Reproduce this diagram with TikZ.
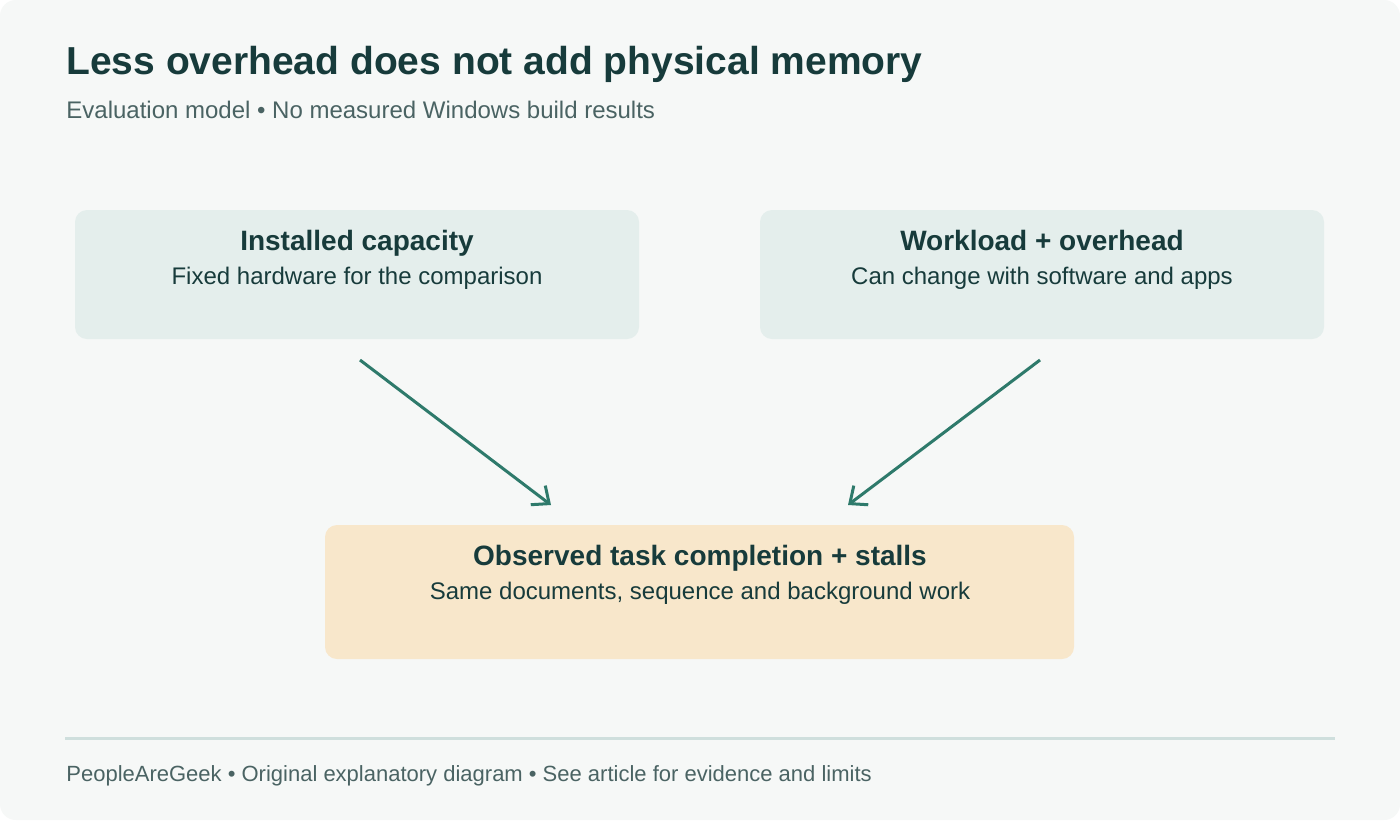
\documentclass[tikz,border=0pt]{standalone}
\usepackage{fontspec}
\setmainfont{Liberation Sans}
\usetikzlibrary{arrows.meta}
\definecolor{bg}{HTML}{F6F8F7}
\definecolor{ink}{HTML}{173B3B}
\definecolor{sub}{HTML}{4A6363}
\definecolor{boxg}{HTML}{E4EEEC}
\definecolor{boxo}{HTML}{F8E7CB}
\definecolor{arr}{HTML}{2E7A6B}
\definecolor{rule}{HTML}{CFDFDD}
\begin{document}
\begin{tikzpicture}[x=0.5pt,y=-0.5pt,
  box/.style={rounded corners=6pt,draw=none},
  ttl/.style={anchor=base,inner sep=0pt,font=\bfseries\fontsize{14}{16}\selectfont,text=ink},
  body/.style={anchor=base,inner sep=0pt,font=\fontsize{12}{14}\selectfont,text=ink},
  conn/.style={draw=arr,line width=1.5pt,-{Straight Barb[length=7pt,width=12pt]}}]
\useasboundingbox (0,0) rectangle (1400,820);
\fill[white] (0,0) rectangle (1400,820);
\fill[bg,rounded corners=8pt] (0,0) rectangle (1400,820);
\node[anchor=west,inner sep=0pt,font=\bfseries\fontsize{19.5}{22}\selectfont,text=ink] (title) at (66,64) {Less overhead does not add physical memory};
\node[anchor=west,inner sep=0pt,font=\fontsize{12}{14}\selectfont,text=sub] (subt) at (66,110) {Evaluation model • No measured Windows build results};
\fill[box,boxg] (75,210) rectangle (639,339);
\fill[box,boxg] (760,210) rectangle (1324,339);
\fill[box,boxo] (325,525) rectangle (1074,659);
\node[ttl] (t1) at (357,250) {Installed capacity};
\node[body] (b1) at (357,284) {Fixed hardware for the comparison};
\node[ttl] (t2) at (1042,250) {Workload + overhead};
\node[body] (b2) at (1042,284) {Can change with software and apps};
\node[ttl] (t3) at (700,565) {Observed task completion + stalls};
\node[body] (b3) at (700,599) {Same documents, sequence and background work};
\coordinate (a1) at (360,360); \coordinate (e1) at (551,505);
\coordinate (a2) at (1040,360); \coordinate (e2) at (848,505);
\draw[conn] (a1) -- (e1);
\draw[conn] (a2) -- (e2);
\draw[rule,line width=1.5pt] (65,738) -- (1335,738);
\node[anchor=west,inner sep=0pt,font=\fontsize{11}{13}\selectfont,text=sub] (foot) at (66,776) {PeopleAreGeek • Original explanatory diagram • See article for evidence and limits};
\end{tikzpicture}
\end{document}
